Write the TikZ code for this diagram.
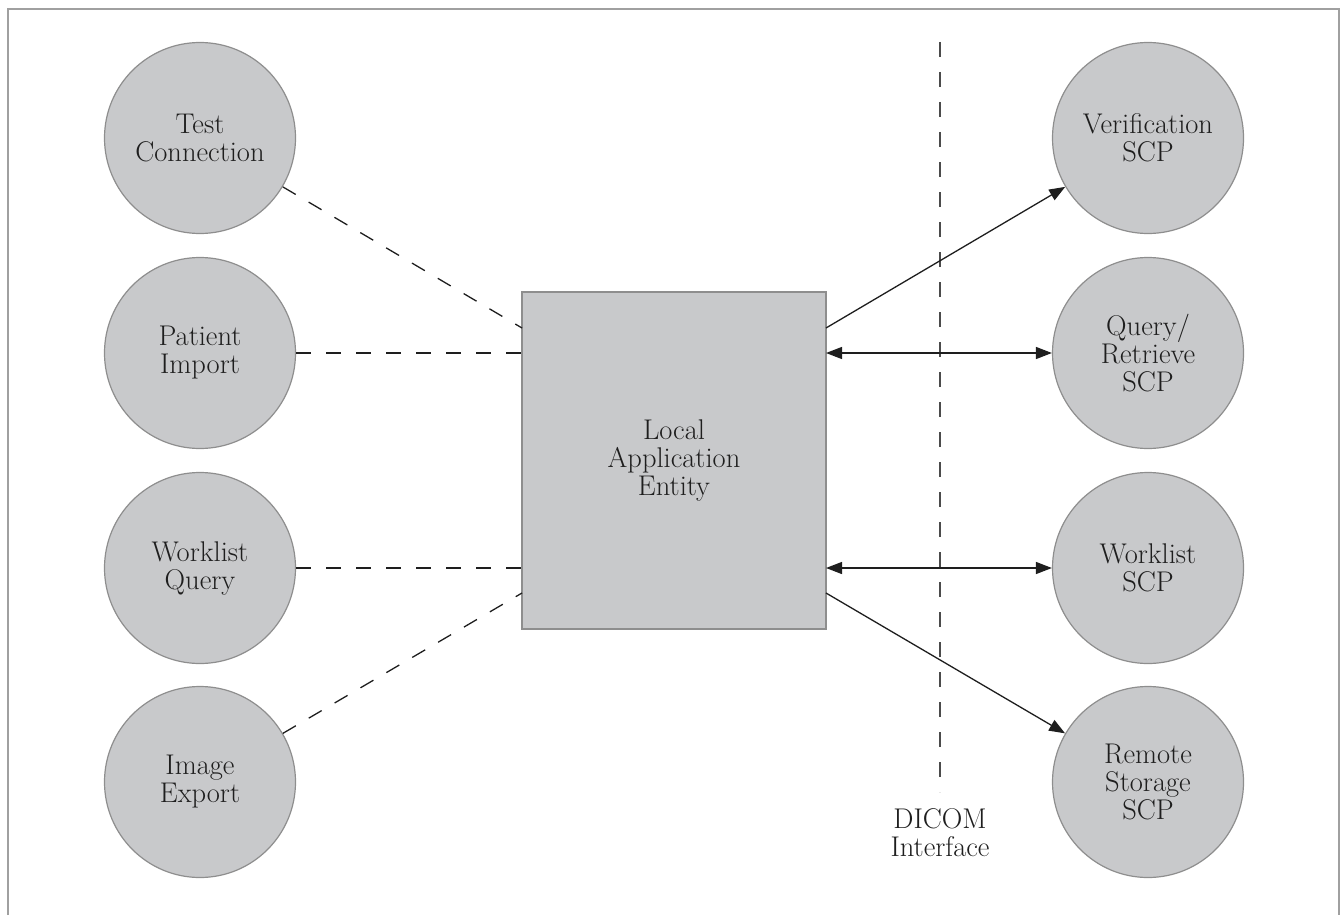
\documentclass[tikz,border=0pt]{standalone}
\usepackage{fontspec}
\usetikzlibrary{arrows.meta}
\definecolor{fillgray}{HTML}{C8C9CB}
\definecolor{edgegray}{HTML}{8E8E8E}
\definecolor{framegray}{HTML}{A0A0A0}
\definecolor{ink}{HTML}{1E1E1E}
\tikzset{
  lbl/.style={font=\fontsize{28.5}{28}\selectfont, text=ink, align=center},
  blob/.style={circle, minimum size=191pt, inner sep=0pt, fill=fillgray, draw=edgegray, line width=1.2pt, lbl},
  entity/.style={rectangle, minimum width=304pt, minimum height=337pt, inner sep=0pt, fill=fillgray, draw=edgegray, line width=1.2pt, lbl},
  dashlink/.style={draw=ink, line width=1.3pt, dash pattern=on 15pt off 15pt},
  link/.style={draw=ink, line width=1.3pt, -{Triangle[length=16pt,width=12pt]}},
  duplink/.style={draw=ink, line width=1.3pt, {Triangle[length=16pt,width=12pt]}-{Triangle[length=16pt,width=12pt]}},
}
\begin{document}
\begin{tikzpicture}[x=1pt,y=-1pt]
\useasboundingbox (0,0) rectangle (1343,915);
% frame (open at bottom)
\draw[framegray, line width=1.5pt] (8,915) -- (8,9) -- (1339,9) -- (1339,915);
% interface line
\coordinate (ifTop) at (940,42);
\coordinate (ifBot) at (940,792);
\draw[dashlink, draw=ink!80] (ifTop) -- (ifBot);
\node[lbl] (iflbl) at (940,833) {DICOM\\Interface};
% central entity
\node[entity] (ae) at (674,460.5) {Local\\Application\\Entity};
% left circles
\node[blob] (tc) at (200,138) {Test\\Connection};
\node[blob] (pi) at (200,353) {Patient\\Import};
\node[blob] (wq) at (200,568) {Worklist\\Query};
\node[blob] (ie) at (200,782) {Image\\Export};
% right circles
\node[blob] (ver) at (1148,138) {Verification\\SCP};
\node[blob] (qr) at (1148,353) {Query/\\Retrieve\\SCP};
\node[blob] (wl) at (1148,568) {Worklist\\SCP};
\node[blob] (rs) at (1148,782) {Remote\\Storage\\SCP};
% attachment points on the entity
\coordinate (aw1) at (522,328);
\coordinate (aw2) at (522,353);
\coordinate (aw3) at (522,568);
\coordinate (aw4) at (522,593);
\coordinate (ae1) at (826,328);
\coordinate (ae2) at (826,353);
\coordinate (ae3) at (826,568);
\coordinate (ae4) at (826,593);
% left dashed connectors
\draw[dashlink] (tc) -- (aw1);
\draw[dashlink] (pi) -- (aw2);
\draw[dashlink] (wq) -- (aw3);
\draw[dashlink] (ie) -- (aw4);
% right connectors
\draw[link] (ae1) -- (ver);
\draw[duplink] (ae2) -- (qr);
\draw[duplink] (ae3) -- (wl);
\draw[link] (ae4) -- (rs);
\end{tikzpicture}
\end{document}
